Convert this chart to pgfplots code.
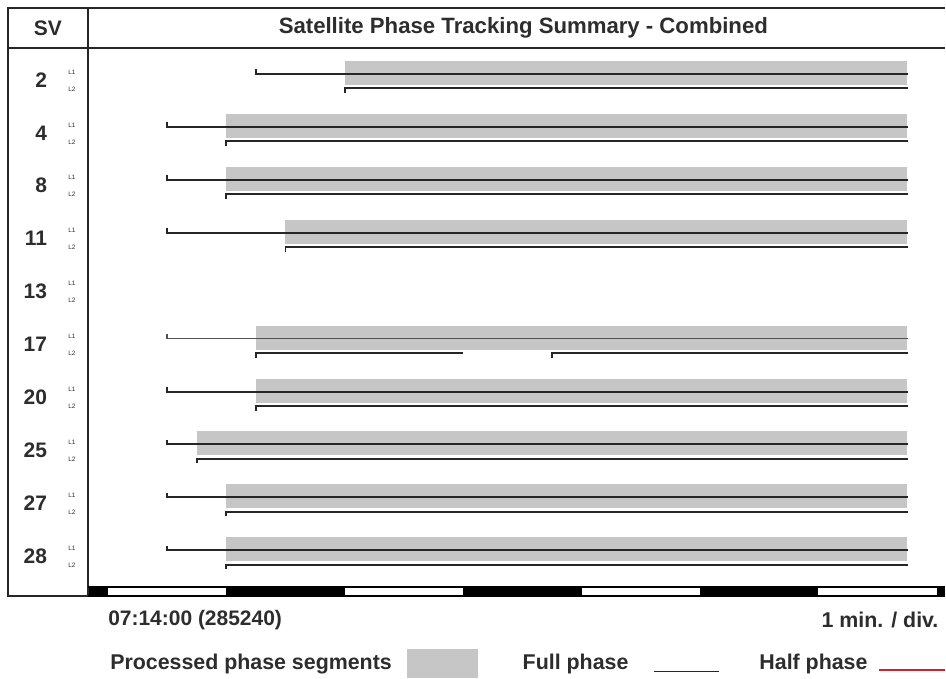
\documentclass[border=0pt]{standalone}
\usepackage{pgfplots}
\pgfplotsset{compat=1.18}
\usepackage{fontspec}
\setmainfont{Liberation Sans}
\definecolor{barfill}{RGB}{198,198,198}
\definecolor{ink}{RGB}{38,38,38}
\definecolor{txt}{RGB}{45,45,45}
\definecolor{halfred}{RGB}{212,32,40}
\newcommand\lab{\fontsize{10.5pt}{12pt}\selectfont\bfseries\color{txt}}
\newcommand\leglab{\fontsize{10.7pt}{12pt}\selectfont\bfseries\color{txt}}
\newcommand\titlelab{\fontsize{11.1pt}{13pt}\selectfont\bfseries\color{txt}}
\newcommand\tinylab{\fontsize{3.2pt}{4pt}\selectfont\color{txt}}
\begin{document}
\begin{tikzpicture}
\begin{scope}[shift={(-44pt,298.5pt)}, x=0.5pt, y=-0.5pt]
\path (0,0) rectangle (946,679);
\end{scope}
\begin{axis}[
  at={(0,0)}, anchor=south west,
  scale only axis, width=429pt, height=274.5pt,
  xmin=-0.1687, xmax=7.0676,
  ymin=0.5094, ymax=10.868, y dir=reverse,
  hide axis, clip=false,
]
% processed phase segments (rows 1..10 = SV 2,4,8,11,13,17,20,25,27,28)
\addplot[fill=barfill, draw=none] coordinates {(2.00,0.755)(6.75,0.755)(6.75,1.208)(2.00,1.208)};
\addplot[fill=barfill, draw=none] coordinates {(1.00,1.755)(6.75,1.755)(6.75,2.208)(1.00,2.208)};
\addplot[fill=barfill, draw=none] coordinates {(1.00,2.755)(6.75,2.755)(6.75,3.208)(1.00,3.208)};
\addplot[fill=barfill, draw=none] coordinates {(1.50,3.755)(6.75,3.755)(6.75,4.208)(1.50,4.208)};
\addplot[fill=barfill, draw=none] coordinates {(1.25,5.755)(6.75,5.755)(6.75,6.208)(1.25,6.208)};
\addplot[fill=barfill, draw=none] coordinates {(1.25,6.755)(6.75,6.755)(6.75,7.208)(1.25,7.208)};
\addplot[fill=barfill, draw=none] coordinates {(0.75,7.755)(6.75,7.755)(6.75,8.208)(0.75,8.208)};
\addplot[fill=barfill, draw=none] coordinates {(1.00,8.755)(6.75,8.755)(6.75,9.208)(1.00,9.208)};
\addplot[fill=barfill, draw=none] coordinates {(1.00,9.755)(6.75,9.755)(6.75,10.208)(1.00,10.208)};
% L1 full phase
\addplot[ink, line width=1pt] coordinates {(1.25,0.915)(1.25,1)(6.76,1)};
\addplot[ink, line width=1pt] coordinates {(0.50,1.915)(0.50,2)(6.76,2)};
\addplot[ink, line width=1pt] coordinates {(0.50,2.915)(0.50,3)(6.76,3)};
\addplot[ink, line width=1pt] coordinates {(0.50,3.915)(0.50,4)(6.76,4)};
\addplot[ink!80, line width=0.6pt] coordinates {(0.50,5.915)(0.50,6)(6.76,6)};
\addplot[ink, line width=1pt] coordinates {(0.50,6.915)(0.50,7)(6.76,7)};
\addplot[ink, line width=1pt] coordinates {(0.50,7.915)(0.50,8)(6.76,8)};
\addplot[ink, line width=1pt] coordinates {(0.50,8.915)(0.50,9)(6.76,9)};
\addplot[ink, line width=1pt] coordinates {(0.50,9.915)(0.50,10)(6.76,10)};
% L2 full phase
\addplot[ink, line width=1pt] coordinates {(2.00,1.36)(2.00,1.274)(6.76,1.274)};
\addplot[ink, line width=1pt] coordinates {(1.00,2.36)(1.00,2.274)(6.76,2.274)};
\addplot[ink, line width=1pt] coordinates {(1.00,3.36)(1.00,3.274)(6.76,3.274)};
\addplot[ink, line width=1pt] coordinates {(1.50,4.36)(1.50,4.274)(6.76,4.274)};
\addplot[ink, line width=1pt] coordinates {(1.25,6.36)(1.25,6.274)(3.00,6.274)};
\addplot[ink, line width=1pt] coordinates {(3.75,6.36)(3.75,6.274)(6.76,6.274)};
\addplot[ink, line width=1pt] coordinates {(1.25,7.36)(1.25,7.274)(6.76,7.274)};
\addplot[ink, line width=1pt] coordinates {(0.75,8.36)(0.75,8.274)(6.76,8.274)};
\addplot[ink, line width=1pt] coordinates {(1.00,9.36)(1.00,9.274)(6.76,9.274)};
\addplot[ink, line width=1pt] coordinates {(1.00,10.36)(1.00,10.274)(6.76,10.274)};
% time scale (1 min / div)
\addplot[fill=black, draw=none] coordinates {(-0.1687,10.698)(0,10.698)(0,10.868)(-0.1687,10.868)};
\addplot[fill=black, draw=none] coordinates {(1,10.698)(2,10.698)(2,10.868)(1,10.868)};
\addplot[fill=black, draw=none] coordinates {(3,10.698)(4,10.698)(4,10.868)(3,10.868)};
\addplot[fill=black, draw=none] coordinates {(5,10.698)(6,10.698)(6,10.868)(5,10.868)};
\addplot[fill=black, draw=none] coordinates {(7,10.698)(7.0676,10.698)(7.0676,10.868)(7,10.868)};
\end{axis}
\begin{scope}[shift={(-44pt,298.5pt)}, x=0.5pt, y=-0.5pt]
% frame
\draw[ink, line width=1pt] (946,8) -- (8,8) -- (8,597) -- (88,597);
\draw[ink, line width=1pt] (8,48) -- (946,48);
\draw[ink, line width=1pt] (88,8) -- (88,597);
\draw[black, line width=1pt] (88,588) -- (946,588);
\draw[black, line width=1pt] (88,597) -- (946,597);
% header
\node[inner sep=0] at (48,28) {\lab SV};
\node[inner sep=0] at (524,28) {\titlelab Satellite Phase Tracking Summary - Combined};
% row labels
\foreach \sv/\yy in {2/74,4/127,8/180,11/233,13/286,17/339,20/392,25/445,27/498,28/551}{
  \node[inner sep=0, anchor=east] at (47.5,\yy+6) {\lab \sv};
  \node[inner sep=0] at (72,\yy-2) {\tinylab L1};
  \node[inner sep=0] at (72,\yy+15) {\tinylab L2};
}
% time labels
\node[inner sep=0, anchor=west] at (108,621) {\lab 07:14:00 (285240)};
\node[inner sep=0, anchor=east] at (940,621) {\leglab 1 min. / div.};
% legend
\node[inner sep=0, anchor=west] at (110,665) {\leglab Processed phase segments};
\fill[barfill] (408,650) rectangle (479,679);
\node[inner sep=0, anchor=west] at (523,665) {\leglab Full phase};
\draw[ink, line width=0.6pt] (655,672) -- (720,672);
\node[inner sep=0, anchor=west] at (760,665) {\leglab Half phase};
\draw[halfred, line width=1.2pt] (880,671) -- (946,671);
\end{scope}
\end{tikzpicture}
\end{document}
